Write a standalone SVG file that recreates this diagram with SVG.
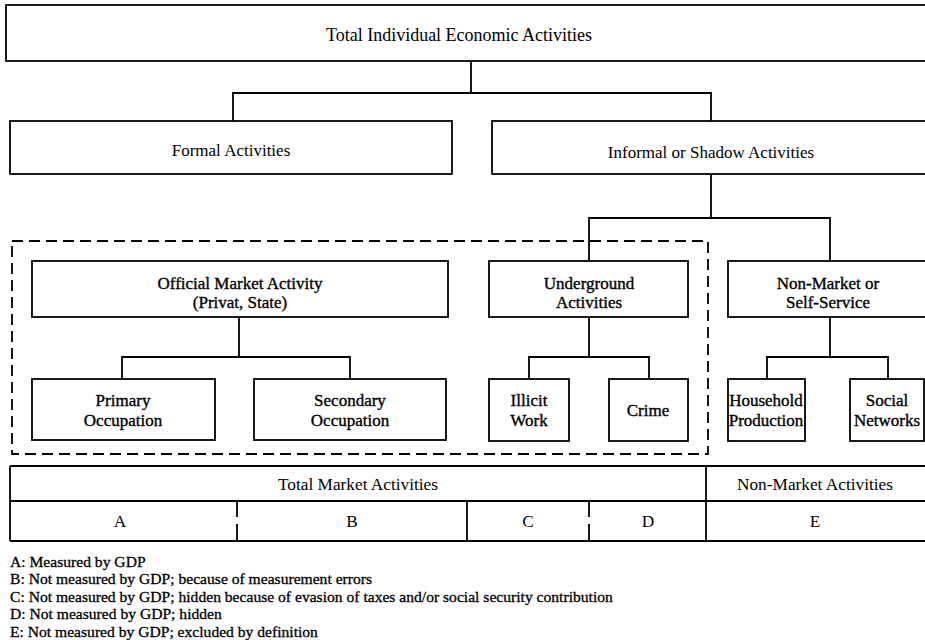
<svg xmlns="http://www.w3.org/2000/svg" width="925" height="640" viewBox="0 0 925 640">
<style>
.box{fill:#fff;stroke:#000;stroke-width:1.8}
.ln{fill:none;stroke:#000;stroke-width:1.8}
.dash{fill:none;stroke:#000;stroke-width:1.8;stroke-dasharray:11 6}
text{font-family:"Liberation Serif","Times New Roman",serif;fill:#000;text-anchor:middle}
.t0{font-size:18px}
.t1{font-size:17px}
.t2{font-size:17px;stroke:#000;stroke-width:0.35}
.t3{font-size:17.3px}
.lg{font-size:15.6px;text-anchor:start;stroke:#000;stroke-width:0.3}
</style>
<rect width="925" height="640" fill="#fff"/>
<g id="connectors">
<path class="ln" d="M471 61V93M233 121V93H711V121"/>
<path class="ln" d="M711 174V218M589 261V218H830V261"/>
<path class="ln" d="M239 317V357M122 379V357H350V379"/>
<path class="ln" d="M589 317V357M529 379V357H649V379"/>
<path class="ln" d="M830 317V357M767 379V357H888V379"/>
</g>
<g id="total">
<rect class="box" x="6" y="5" width="930" height="56"/>
<text class="t0" x="459" y="41">Total Individual Economic Activities</text>
</g>
<g id="formal">
<rect class="box" x="10" y="121" width="442" height="53"/>
<text class="t1" x="231" y="156">Formal Activities</text>
</g>
<g id="informal">
<rect class="box" x="492" y="121" width="444" height="53"/>
<text class="t1" x="711" y="158">Informal or Shadow Activities</text>
</g>
<g id="official-group">
<rect class="dash" x="12" y="241" width="696" height="213"/>
</g>
<g id="official">
<rect class="box" x="32" y="261" width="416" height="56"/>
<text class="t2" x="240" y="289">Official Market Activity</text>
<text class="t2" x="240" y="308">(Privat, State)</text>
</g>
<g id="primary">
<rect class="box" x="32" y="379" width="183" height="61"/>
<text class="t2" x="123" y="406">Primary</text>
<text class="t2" x="123" y="426">Occupation</text>
</g>
<g id="secondary">
<rect class="box" x="254" y="379" width="192" height="61"/>
<text class="t2" x="350" y="406">Secondary</text>
<text class="t2" x="350" y="426">Occupation</text>
</g>
<g id="underground">
<rect class="box" x="489" y="261" width="199" height="56"/>
<text class="t2" x="589" y="289">Underground</text>
<text class="t2" x="589" y="308">Activities</text>
</g>
<g id="illicit">
<rect class="box" x="489" y="379" width="80" height="62"/>
<text class="t2" x="529" y="406">Illicit</text>
<text class="t2" x="529" y="426">Work</text>
</g>
<g id="crime">
<rect class="box" x="609" y="379" width="79" height="62"/>
<text class="t2" x="648" y="416">Crime</text>
</g>
<g id="nonmarket">
<rect class="box" x="728" y="261" width="208" height="56"/>
<text class="t2" x="828" y="289">Non-Market or</text>
<text class="t2" x="828" y="308">Self-Service</text>
</g>
<g id="household">
<rect class="box" x="728" y="379" width="77" height="62"/>
<text class="t2" x="766" y="406">Household</text>
<text class="t2" x="766" y="426">Production</text>
</g>
<g id="social">
<rect class="box" x="850" y="379" width="74" height="62"/>
<text class="t2" x="887" y="406">Social</text>
<text class="t2" x="887" y="426">Networks</text>
</g>
<g id="table">
<path class="ln" d="M10 466H936M10 501H936M10 541H936M10 466V541M706 466V541M467 501V541"/>
<path class="dash" style="stroke-dasharray:16 7" d="M237 501V541M589 501V541"/>
<text class="t3" x="358" y="490">Total Market Activities</text>
<text class="t3" x="815" y="490">Non-Market Activities</text>
<text class="t3" x="120" y="527">A</text>
<text class="t3" x="352" y="527">B</text>
<text class="t3" x="528" y="527">C</text>
<text class="t3" x="648" y="527">D</text>
<text class="t3" x="815" y="527">E</text>
</g>
<g id="legend">
<text class="lg" x="10" y="567">A: Measured by GDP</text>
<text class="lg" x="10" y="584">B: Not measured by GDP; because of measurement errors</text>
<text class="lg" x="10" y="602">C: Not measured by GDP; hidden because of evasion of taxes and/or social security contribution</text>
<text class="lg" x="10" y="619">D: Not measured by GDP; hidden</text>
<text class="lg" x="10" y="637">E: Not measured by GDP; excluded by definition</text>
</g>
</svg>
